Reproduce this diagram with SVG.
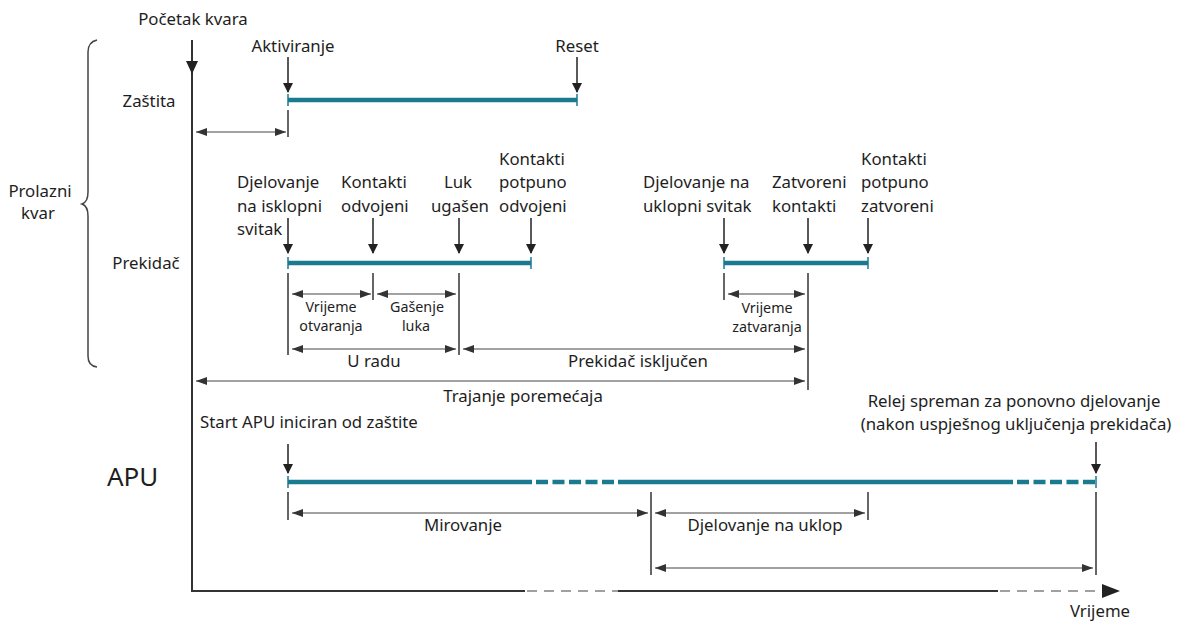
<svg xmlns="http://www.w3.org/2000/svg" width="1184" height="624" viewBox="0 0 1184 624">
<style>
text{font-family:"Noto Sans","Open Sans","DejaVu Sans",sans-serif;font-size:16.8px;fill:#1e1e1e}
.s{font-size:14.3px}
.big{font-size:26px}
.m{text-anchor:middle}
.ax{stroke:#333;stroke-width:2;fill:none}
.axd{stroke:#a0a0a0;stroke-width:2;stroke-dasharray:10 7;fill:none}
.dn{stroke:#222;stroke-width:1.5;marker-end:url(#hd)}
.dim{stroke:#444;stroke-width:1.2;marker-start:url(#ha);marker-end:url(#ha)}
.tk{stroke:#333;stroke-width:1.5}
.bar{stroke:#1a7a8f;stroke-width:4.5}
.bard{stroke:#1a7a8f;stroke-width:4.5;stroke-dasharray:12 4.5}
.bt{stroke:#1a7a8f;stroke-width:1.5}
</style>
<defs>
<marker id="hd" markerUnits="userSpaceOnUse" markerWidth="10" markerHeight="12" refX="9" refY="5" orient="auto">
<path d="M0,0 L10,5 L0,10 z" fill="#222"/>
</marker>
<marker id="ha" markerUnits="userSpaceOnUse" markerWidth="12" markerHeight="10" refX="11" refY="4" orient="auto-start-reverse">
<path d="M0,0 L11,4 L0,8 z" fill="#333"/>
</marker>
</defs>

<g id="axes">
<line class="ax" x1="192" y1="40" x2="192" y2="591"/>
<polygon points="186,61 198,61 192,74" fill="#222"/>
<line class="ax" x1="191" y1="591" x2="525" y2="591"/>
<line class="axd" x1="527" y1="591" x2="618" y2="591"/>
<line class="ax" x1="618" y1="591" x2="998" y2="591"/>
<line class="axd" x1="1000" y1="591" x2="1102" y2="591"/>
<polygon points="1102,584 1120,591 1102,598" fill="#222"/>
</g>

<g id="bracket">
<path d="M97,40 Q88,42 88,52 L88,192 Q88,202 82,204 Q88,206 88,216 L88,356 Q88,366 97,367" fill="none" stroke="#444" stroke-width="1.5"/>
</g>

<g id="labels-left">
<text class="m" x="193" y="25">Početak kvara</text>
<text class="m" x="149" y="107">Zaštita</text>
<text class="m" x="40" y="197">Prolazni</text>
<text class="m" x="38" y="219">kvar</text>
<text class="m" x="146" y="269">Prekidač</text>
<text class="big" x="107" y="486">APU</text>
<text class="m" x="1100" y="617">Vrijeme</text>
</g>

<g id="zastita">
<text class="m" x="293" y="52">Aktiviranje</text>
<text class="m" x="577" y="52">Reset</text>
<line class="bar" x1="288" y1="100" x2="577" y2="100"/>
<line class="bt" x1="288" y1="94" x2="288" y2="106"/>
<line class="bt" x1="577" y1="94" x2="577" y2="106"/>
</g>

<g id="prekidac-isklop">
<text x="237" y="188">Djelovanje</text>
<text x="237" y="212">na isklopni</text>
<text x="237" y="235">svitak</text>
<text x="341" y="188">Kontakti</text>
<text x="341" y="212">odvojeni</text>
<text class="m" x="458" y="188">Luk</text>
<text class="m" x="460" y="212">ugašen</text>
<text x="499" y="165">Kontakti</text>
<text x="499" y="188">potpuno</text>
<text x="499" y="212">odvojeni</text>
<line class="bar" x1="288" y1="263" x2="531" y2="263"/>
<line class="bt" x1="288" y1="257" x2="288" y2="269"/>
<line class="bt" x1="531" y1="257" x2="531" y2="269"/>
<text class="s m" x="331" y="312">Vrijeme</text>
<text class="s m" x="331" y="331">otvaranja</text>
<text class="s m" x="417" y="312">Gašenje</text>
<text class="s m" x="416" y="331">luka</text>
<text class="m" x="374" y="367">U radu</text>
</g>

<g id="prekidac-uklop">
<text x="643" y="188">Djelovanje na</text>
<text x="643" y="212">uklopni svitak</text>
<text x="772" y="188">Zatvoreni</text>
<text x="772" y="212">kontakti</text>
<text x="861" y="165">Kontakti</text>
<text x="861" y="188">potpuno</text>
<text x="861" y="212">zatvoreni</text>
<line class="bar" x1="724" y1="263" x2="868" y2="263"/>
<line class="bt" x1="724" y1="257" x2="724" y2="269"/>
<line class="bt" x1="868" y1="257" x2="868" y2="269"/>
<text class="s m" x="767" y="313">Vrijeme</text>
<text class="s m" x="767" y="332">zatvaranja</text>
<text class="m" x="638" y="367">Prekidač isključen</text>
<text class="m" x="523" y="402">Trajanje poremećaja</text>
</g>

<g id="apu">
<text x="200" y="428">Start APU iniciran od zaštite</text>
<text class="m" x="1014" y="407">Relej spreman za ponovno djelovanje</text>
<text class="m" x="1016" y="430">(nakon uspješnog uključenja prekidača)</text>
<line class="bar" x1="288" y1="482" x2="532" y2="482"/>
<line class="bard" x1="536" y1="482" x2="616" y2="482"/>
<line class="bar" x1="618" y1="482" x2="1013" y2="482"/>
<line class="bard" x1="1017" y1="482" x2="1096" y2="482"/>
<line class="bt" x1="288" y1="476" x2="288" y2="488"/>
<line class="bt" x1="1096" y1="476" x2="1096" y2="488"/>
<text class="m" x="463" y="531">Mirovanje</text>
<text class="m" x="765" y="531">Djelovanje na uklop</text>
</g>

<g id="connectors">
<line class="dn" x1="288" y1="57" x2="288" y2="92"/>
<line class="dn" x1="577" y1="57" x2="577" y2="92"/>
<line class="tk" x1="288" y1="110" x2="288" y2="137"/>
<line class="dim" x1="196" y1="132" x2="286" y2="132"/>

<line class="dn" x1="288" y1="218" x2="288" y2="253"/>
<line class="dn" x1="373" y1="218" x2="373" y2="253"/>
<line class="dn" x1="459" y1="218" x2="459" y2="253"/>
<line class="dn" x1="531" y1="218" x2="531" y2="253"/>
<line class="dn" x1="724" y1="218" x2="724" y2="253"/>
<line class="dn" x1="808" y1="218" x2="808" y2="253"/>
<line class="dn" x1="868" y1="218" x2="868" y2="253"/>

<line class="tk" x1="288" y1="273" x2="288" y2="355"/>
<line class="tk" x1="373" y1="273" x2="373" y2="300"/>
<line class="tk" x1="459" y1="273" x2="459" y2="355"/>
<line class="tk" x1="724" y1="273" x2="724" y2="300"/>
<line class="tk" x1="808" y1="273" x2="808" y2="390"/>

<line class="dim" x1="292" y1="294" x2="371" y2="294"/>
<line class="dim" x1="377" y1="294" x2="456" y2="294"/>
<line class="dim" x1="728" y1="294" x2="805" y2="294"/>
<line class="dim" x1="292" y1="349" x2="456" y2="349"/>
<line class="dim" x1="463" y1="349" x2="805" y2="349"/>
<line class="dim" x1="196" y1="381" x2="805" y2="381"/>

<line class="dn" x1="288" y1="444" x2="288" y2="473"/>
<line class="dn" x1="1096" y1="442" x2="1096" y2="473"/>
<line class="tk" x1="288" y1="492" x2="288" y2="520"/>
<line class="tk" x1="651" y1="492" x2="651" y2="575"/>
<line class="tk" x1="868" y1="492" x2="868" y2="520"/>
<line class="tk" x1="1096" y1="492" x2="1096" y2="575"/>
<line class="dim" x1="292" y1="513" x2="648" y2="513"/>
<line class="dim" x1="655" y1="513" x2="865" y2="513"/>
<line class="dim" x1="655" y1="568" x2="1093" y2="568"/>
</g>
</svg>
